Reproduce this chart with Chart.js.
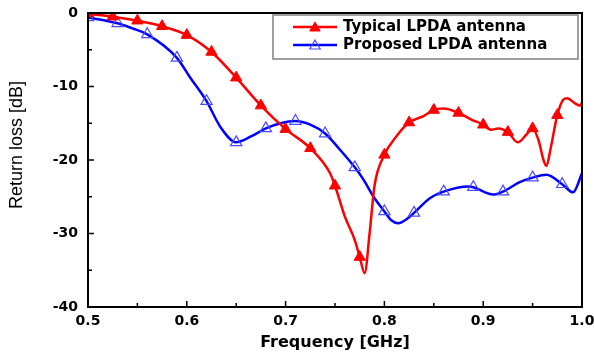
<!DOCTYPE html>
<html>
<head>
<meta charset="utf-8">
<script src="https://cdn.jsdelivr.net/npm/chart.js@4.4.1/dist/chart.umd.min.js"></script>
<style>
  html, body { margin: 0; padding: 0; background: #fff; }
</style>
</head>
<body>
<canvas id="chart" width="594" height="361"></canvas>
<script>
// Return loss of the two LPDA antennas
const typicalFreq = [0.5, 0.525, 0.55, 0.575, 0.6, 0.625, 0.65, 0.675, 0.7, 0.725, 0.745, 0.75, 0.76, 0.77, 0.775, 0.78, 0.785, 0.79, 0.8, 0.812, 0.825, 0.84, 0.85, 0.86, 0.875, 0.888, 0.9, 0.908, 0.915, 0.925, 0.935, 0.944, 0.95, 0.956, 0.961, 0.964, 0.968, 0.975, 0.981, 0.985, 0.993, 0.998, 1.0];
const typicalLoss = [-0.1, -0.5, -1.05, -1.8, -3.0, -5.3, -8.8, -12.6, -15.8, -18.4, -21.8, -23.5, -27.7, -30.9, -33.2, -35.4, -30.0, -23.5, -19.3, -16.8, -14.9, -14.0, -13.2, -13.0, -13.6, -14.5, -15.2, -15.9, -15.7, -16.2, -17.6, -16.5, -15.7, -17.3, -20.0, -20.8, -18.6, -13.9, -11.8, -11.6, -12.3, -12.6, -12.2];
const typicalMarkers = [0.5, 0.525, 0.55, 0.575, 0.6, 0.625, 0.65, 0.675, 0.7, 0.725, 0.75, 0.775, 0.8, 0.825, 0.85, 0.875, 0.9, 0.925, 0.95, 0.975];

const proposedFreq = [0.5, 0.53, 0.545, 0.56, 0.59, 0.603, 0.62, 0.634, 0.65, 0.665, 0.68, 0.695, 0.71, 0.725, 0.74, 0.755, 0.77, 0.779, 0.789, 0.8, 0.807, 0.814, 0.824, 0.83, 0.846, 0.86, 0.885, 0.89, 0.91, 0.92, 0.937, 0.95, 0.964, 0.98, 0.991, 1.0];
const proposedLoss = [-0.6, -1.4, -2.1, -2.9, -6.1, -8.7, -12.0, -15.5, -17.6, -16.8, -15.7, -15.0, -14.7, -15.2, -16.4, -18.6, -21.0, -22.7, -25.0, -27.0, -28.2, -28.6, -27.9, -27.2, -25.2, -24.3, -23.6, -23.7, -24.7, -24.3, -23.0, -22.4, -22.0, -23.3, -24.4, -21.8];
const proposedMarkers = [0.5, 0.53, 0.56, 0.59, 0.62, 0.65, 0.68, 0.71, 0.74, 0.77, 0.8, 0.83, 0.86, 0.89, 0.92, 0.95, 0.98];

const seriesNames = ['Typical LPDA antenna', 'Proposed LPDA antenna'];
const xTickLabels = ['0.5', '0.6', '0.7', '0.8', '0.9', '1.0'];
const yTickLabels = ['0', '-10', '-20', '-30', '-40'];
const xTitle = 'Frequency [GHz]';
const yTitle = 'Return loss [dB]';

const toPoints = (xs, ys) => xs.map((x, i) => ({ x, y: ys[i] }));
const markerRadius = (marks, r) => (c) =>
  (c.raw && marks.some((m) => Math.abs(m - c.raw.x) < 1e-6)) ? r : 0;

// inward ticks, box frame and the axis titles
const axisFrame = {
  id: 'axisFrame',
  afterDatasetsDraw(chart) {
    const { ctx, chartArea: a, scales: { x, y } } = chart;
    ctx.save();
    ctx.strokeStyle = '#000';
    ctx.lineWidth = 1.5;
    ctx.beginPath();
    const xs = xTickLabels.map(Number);
    xs.forEach((v, i) => {
      const px = x.getPixelForValue(v);
      ctx.moveTo(px, a.bottom); ctx.lineTo(px, a.bottom - 6);
      if (i < xs.length - 1) {
        const mx = x.getPixelForValue((v + xs[i + 1]) / 2);
        ctx.moveTo(mx, a.bottom); ctx.lineTo(mx, a.bottom - 4);
      }
    });
    const ys = yTickLabels.map(Number);
    ys.forEach((v, i) => {
      const py = y.getPixelForValue(v);
      ctx.moveTo(a.left, py); ctx.lineTo(a.left + 6, py);
      if (i < ys.length - 1) {
        const my = y.getPixelForValue((v + ys[i + 1]) / 2);
        ctx.moveTo(a.left, my); ctx.lineTo(a.left + 4, my);
      }
    });
    ctx.stroke();
    ctx.lineWidth = 2;
    ctx.strokeRect(a.left, a.top, a.right - a.left, a.bottom - a.top);

    ctx.fillStyle = '#000';
    ctx.textAlign = 'center';
    ctx.textBaseline = 'middle';
    ctx.font = 'bold 16px "DejaVu Sans"';
    ctx.fillText(xTitle, (a.left + a.right) / 2, a.bottom + 36);
    ctx.translate(17, a.top + 132);
    ctx.rotate(-Math.PI / 2);
    ctx.font = '18px "Liberation Sans"';
    ctx.fillText(yTitle, 0, 0);
    ctx.restore();
  }
};

// framed legend in the top right corner, line with marker per series
const boxedLegend = {
  id: 'boxedLegend',
  afterDraw(chart) {
    const { ctx, chartArea: a } = chart;
    const w = 305, h = 44;
    const left = a.right - 4 - w, top = a.top + 2;
    ctx.save();
    ctx.fillStyle = '#fff';
    ctx.fillRect(left, top, w, h);
    ctx.strokeStyle = '#808080';
    ctx.lineWidth = 1.5;
    ctx.strokeRect(left, top, w, h);
    chart.data.datasets.forEach((ds, i) => {
      const cy = top + 12 + i * 18;
      ctx.strokeStyle = ds.borderColor;
      ctx.lineWidth = ds.borderWidth;
      ctx.beginPath();
      ctx.moveTo(left + 20, cy);
      ctx.lineTo(left + 64, cy);
      ctx.stroke();
      ctx.fillStyle = ds.pointBackgroundColor;
      ctx.strokeStyle = ds.pointBorderColor;
      ctx.lineWidth = ds.pointBorderWidth;
      Chart.helpers.drawPoint(ctx, { pointStyle: 'triangle', radius: 6, rotation: 0, borderWidth: ds.pointBorderWidth }, left + 42, cy + 1);
      ctx.fillStyle = '#000';
      ctx.font = 'bold 15px "DejaVu Sans"';
      ctx.textAlign = 'left';
      ctx.textBaseline = 'middle';
      ctx.fillText(ds.label, left + 70, cy);
    });
    ctx.restore();
  }
};

new Chart(document.getElementById('chart'), {
  type: 'line',
  data: {
    datasets: [
      {
        label: seriesNames[0],
        data: toPoints(typicalFreq, typicalLoss),
        borderColor: '#ff0000',
        borderWidth: 2.5,
        cubicInterpolationMode: 'monotone',
        pointStyle: 'triangle',
        pointRadius: markerRadius(typicalMarkers, 6.5),
        pointBackgroundColor: '#ff0000',
        pointBorderColor: '#ff0000',
        pointBorderWidth: 1,
      },
      {
        label: seriesNames[1],
        data: toPoints(proposedFreq, proposedLoss),
        borderColor: '#0000ff',
        borderWidth: 2.5,
        cubicInterpolationMode: 'monotone',
        pointStyle: 'triangle',
        pointRadius: markerRadius(proposedMarkers, 6.5),
        pointBackgroundColor: 'rgba(0,0,0,0)',
        pointBorderColor: '#4a4aff',
        pointBorderWidth: 1.2,
      },
    ],
  },
  options: {
    responsive: false,
    animation: false,
    layout: { padding: { left: 0, right: 12, top: 13, bottom: 0 } },
    plugins: { legend: { display: false }, tooltip: { enabled: false } },
    scales: {
      x: {
        type: 'linear',
        min: 0.5,
        max: 1.0,
        grid: { display: false, drawTicks: false },
        border: { display: false },
        afterBuildTicks: (s) => { s.ticks = xTickLabels.map((t) => ({ value: Number(t) })); },
        afterFit: (s) => {
          s.height = 54;
          s.paddingLeft = 0; s.paddingRight = 0;
        },
        ticks: {
          autoSkip: false,
          maxRotation: 0,
          padding: 6,
          color: '#000',
          font: { family: '"DejaVu Sans"', size: 14, weight: 'bold' },
          callback: (v) => xTickLabels.find((t) => Number(t) === v),
        },
      },
      y: {
        min: -40,
        max: 0,
        grid: { display: false, drawTicks: false },
        border: { display: false },
        afterBuildTicks: (s) => { s.ticks = yTickLabels.map((t) => ({ value: Number(t) })); },
        afterFit: (s) => {
          s.width = 88;
          s.paddingTop = 0; s.paddingBottom = 0;
        },
        ticks: {
          padding: 10,
          color: '#000',
          font: { family: '"DejaVu Sans"', size: 14, weight: 'bold' },
          callback: (v) => yTickLabels.find((t) => Number(t) === v),
        },
      },
    },
  },
  plugins: [axisFrame, boxedLegend],
});
</script>
</body>
</html>
